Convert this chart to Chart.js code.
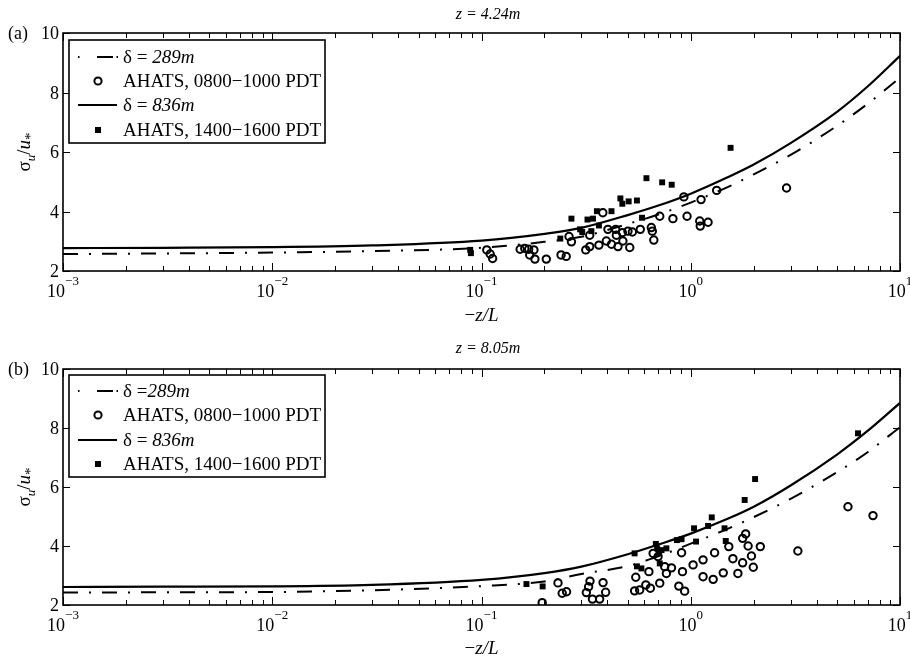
<!DOCTYPE html>
<html><head><meta charset="utf-8">
<script src="https://cdn.jsdelivr.net/npm/chart.js@4.4.0/dist/chart.umd.min.js"></script>
<style>html,body{margin:0;padding:0;background:#fff;overflow:hidden;width:910px;height:661px;} canvas{position:absolute;left:0;}</style>
</head><body>
<canvas id="ca" width="910" height="330" style="top:0px"></canvas>
<canvas id="cb" width="910" height="331" style="top:330px"></canvas>
<script>
// ---- data ----
const zeta = [0.001, 0.003, 0.01, 0.03, 0.1, 0.2, 0.3, 0.5, 0.7, 1, 1.5, 2, 3, 5, 7, 10];
const aDelta289 = [2.57, 2.59, 2.62, 2.67, 2.78, 2.98, 3.15, 3.58, 3.9, 4.3, 4.82, 5.25, 5.9, 6.88, 7.62, 8.5];
const aDelta836 = [2.77, 2.78, 2.80, 2.86, 3.02, 3.25, 3.45, 3.88, 4.2, 4.6, 5.15, 5.58, 6.3, 7.35, 8.2, 9.23];
const bDelta289 = [2.42, 2.43, 2.44, 2.5, 2.64, 2.8, 3.05, 3.32, 3.65, 4.08, 4.58, 4.98, 5.6, 6.5, 7.18, 8.03];
const bDelta836 = [2.61, 2.62, 2.63, 2.68, 2.85, 3.08, 3.3, 3.72, 4.05, 4.42, 4.92, 5.33, 6.05, 7.1, 7.9, 8.85];

const aMorningX = [0.106, 0.110, 0.113, 0.153, 0.161, 0.168, 0.178, 0.170, 0.180, 0.204, 0.240, 0.254, 0.269, 0.262, 0.315, 0.329, 0.329, 0.364, 0.380, 0.395, 0.402, 0.418, 0.438, 0.441, 0.449, 0.471, 0.474, 0.501, 0.511, 0.526, 0.574, 0.648, 0.655, 0.666, 0.711, 0.822, 0.927, 0.960, 1.104, 1.11, 1.12, 1.21, 1.33, 2.87];
const aMorningY = [2.71, 2.57, 2.42, 2.73, 2.76, 2.73, 2.71, 2.54, 2.40, 2.40, 2.54, 2.49, 2.98, 3.16, 2.71, 2.82, 3.20, 2.87, 3.96, 3.01, 3.40, 2.90, 3.40, 3.20, 2.82, 3.29, 3.01, 3.34, 2.79, 3.31, 3.40, 3.46, 3.34, 3.04, 3.84, 3.76, 4.49, 3.84, 3.68, 3.51, 4.40, 3.64, 4.71, 4.79];
const aAfternoonX = [0.0883, 0.089, 0.238, 0.269, 0.296, 0.303, 0.321, 0.341, 0.335, 0.356, 0.364, 0.418, 0.461, 0.471, 0.505, 0.553, 0.585, 0.614, 0.730, 0.811, 1.55];
const aAfternoonY = [2.71, 2.60, 3.09, 3.76, 3.40, 3.31, 3.73, 3.76, 3.34, 4.01, 3.53, 4.01, 4.44, 4.26, 4.34, 4.37, 3.79, 5.12, 4.98, 4.90, 6.14];

const bMorningX = [0.195, 0.232, 0.243, 0.255, 0.317, 0.325, 0.330, 0.339, 0.367, 0.381, 0.392, 0.539, 0.570, 0.546, 0.610, 0.641, 0.631, 0.711, 0.661, 0.698, 0.751, 0.765, 0.809, 0.877, 0.935, 0.904, 0.913, 1.026, 1.145, 1.145, 1.28, 1.30, 1.43, 1.52, 1.59, 1.68, 1.77, 1.77, 1.83, 1.88, 1.95, 1.99, 2.15, 3.25, 5.64, 7.43];
const bMorningY = [2.08, 2.75, 2.40, 2.45, 2.42, 2.62, 2.81, 2.20, 2.20, 2.76, 2.43, 2.48, 2.51, 2.94, 2.68, 2.57, 3.13, 2.74, 3.75, 3.64, 3.30, 3.07, 3.26, 2.64, 2.47, 3.77, 3.13, 3.36, 3.53, 2.96, 2.87, 3.77, 3.09, 3.98, 3.57, 3.07, 3.43, 4.26, 4.41, 4.00, 3.66, 3.28, 3.98, 3.83, 5.33, 5.03];
const bAfternoonX = [0.164, 0.196, 0.539, 0.553, 0.581, 0.681, 0.691, 0.706, 0.711, 0.725, 0.765, 0.859, 0.904, 1.037, 1.06, 1.21, 1.26, 1.45, 1.47, 1.81, 2.03, 6.3];
const bAfternoonY = [2.71, 2.63, 3.75, 3.31, 3.24, 4.07, 3.92, 3.75, 3.41, 3.86, 3.92, 4.20, 4.23, 4.60, 4.15, 4.68, 4.97, 4.60, 4.17, 5.56, 6.27, 7.82];

const xDecades = [-3, -2, -1, 0, 1];
const yTicks = [2, 4, 6, 8, 10];
const titles = ['z = 4.24m', 'z = 8.05m'];
const panelLabels = ['(a)', '(b)'];
const legendRowsA = [[['δ = ', false], ['289m', true]], [['AHATS, 0800\u22121000 PDT', false]], [['δ = ', false], ['836m', true]], [['AHATS, 1400\u22121600 PDT', false]]];
const legendRowsB = [[['δ =', false], ['289m', true]], [['AHATS, 0800\u22121000 PDT', false]], [['δ = ', false], ['836m', true]], [['AHATS, 1400\u22121600 PDT', false]]];

const SERIF = '"Liberation Serif","Times New Roman",serif';
const DASHDOT = [15, 11, 2, 11];
function pts(xs, ys) { return xs.map((x, i) => ({ x: x, y: ys[i] })); }

function buildChart(id, p) {
  const framePlugin = {
    id: 'frame',
    afterDraw(chart) {
      const ctx = chart.ctx, ca = chart.chartArea, xs = chart.scales.x, ys = chart.scales.y;
      ctx.save();
      ctx.strokeStyle = '#000'; ctx.fillStyle = '#000';
      // ticks
      ctx.lineWidth = 1;
      ctx.beginPath();
      for (let k = 0; k < xDecades.length; k++) {
        const d = xDecades[k];
        for (let m = 1; m <= 9; m++) {
          if (k === xDecades.length - 1 && m > 1) break;
          const v = m * Math.pow(10, d);
          const px = Math.round(xs.getPixelForValue(v)) + 0.5;
          const len = m === 1 ? 8 : 5;
          ctx.moveTo(px, ca.bottom); ctx.lineTo(px, ca.bottom - len);
          ctx.moveTo(px, ca.top); ctx.lineTo(px, ca.top + len);
        }
      }
      yTicks.forEach(v => {
        const py = Math.round(ys.getPixelForValue(v)) + 0.5;
        ctx.moveTo(ca.left, py); ctx.lineTo(ca.left + 7, py);
        ctx.moveTo(ca.right, py); ctx.lineTo(ca.right - 7, py);
      });
      ctx.stroke();
      // box
      ctx.lineWidth = 1.6;
      ctx.strokeRect(ca.left, ca.top, ca.right - ca.left, ca.bottom - ca.top);
      // y tick labels
      ctx.font = '18px ' + SERIF;
      ctx.textAlign = 'right'; ctx.textBaseline = 'alphabetic';
      yTicks.forEach(v => {
        const py = ys.getPixelForValue(v);
        ctx.fillText(String(v), ca.left - 4, py + 6);
      });
      // x tick labels 10^k
      xDecades.forEach(d => {
        const px = xs.getPixelForValue(Math.pow(10, d));
        const exp = d < 0 ? '\u2212' + Math.abs(d) : String(d);
        ctx.font = '18px ' + SERIF;
        const w1 = ctx.measureText('10').width;
        ctx.font = '13px ' + SERIF;
        const w2 = ctx.measureText(exp).width;
        const x0 = px - (w1 + w2) / 2;
        ctx.textAlign = 'left';
        ctx.font = '18px ' + SERIF;
        ctx.fillText('10', x0, ca.bottom + 26);
        ctx.font = '13px ' + SERIF;
        ctx.fillText(exp, x0 + w1, ca.bottom + 14);
      });
      // x axis title
      ctx.font = '19px ' + SERIF;
      const wm = ctx.measureText('\u2212').width;
      ctx.font = 'italic 19px ' + SERIF;
      const wz = ctx.measureText('z/L').width;
      const cx = (ca.left + ca.right) / 2;
      ctx.textAlign = 'left';
      ctx.font = '19px ' + SERIF;
      ctx.fillText('\u2212', cx - (wm + wz) / 2, p.xTitleY);
      ctx.font = 'italic 19px ' + SERIF;
      ctx.fillText('z/L', cx - (wm + wz) / 2 + wm, p.xTitleY);
      // title
      ctx.textAlign = 'center';
      ctx.font = 'italic 16px ' + SERIF;
      ctx.fillText(p.title, p.titleX, p.titleY);
      // panel label
      ctx.textAlign = 'left';
      ctx.font = '18px ' + SERIF;
      ctx.fillText(p.label, 8, ca.top + 6);
      // y axis title (rotated)
      ctx.save();
      ctx.translate(p.yTitleX, (ca.top + ca.bottom) / 2);
      ctx.rotate(-Math.PI / 2);
      const parts = [['\u03c3', '19px ', 0], ['u', 'italic 13px ', 5], ['/', '19px ', 0], ['u', 'italic 19px ', 0], ['*', '15px ', 5]];
      let total = 0;
      parts.forEach(q => { ctx.font = q[1] + SERIF; total += ctx.measureText(q[0]).width; });
      let xx = -total / 2;
      ctx.textAlign = 'left';
      parts.forEach(q => { ctx.font = q[1] + SERIF; ctx.fillText(q[0], xx, q[2]); xx += ctx.measureText(q[0]).width; });
      ctx.restore();
      // legend
      const L = p.legend;
      ctx.fillStyle = '#fff';
      ctx.fillRect(L.x, L.y, L.w, L.h);
      ctx.strokeStyle = '#000'; ctx.lineWidth = 1.6;
      ctx.strokeRect(L.x, L.y, L.w, L.h);
      ctx.fillStyle = '#000';
      // row 0: dash-dot sample
      ctx.lineWidth = 2;
      ctx.beginPath();
      ctx.moveTo(L.x + 9, L.rows[0]); ctx.lineTo(L.x + 10.5, L.rows[0]);
      ctx.moveTo(L.x + 28, L.rows[0]); ctx.lineTo(L.x + 44, L.rows[0]);
      ctx.moveTo(L.x + 47.5, L.rows[0]); ctx.lineTo(L.x + 49, L.rows[0]);
      ctx.stroke();
      // row 1: circle
      ctx.beginPath(); ctx.arc(L.x + 29, L.rows[1], 3.6, 0, Math.PI * 2); ctx.stroke();
      // row 2: solid
      ctx.lineWidth = 2.2;
      ctx.beginPath(); ctx.moveTo(L.x + 9, L.rows[2]); ctx.lineTo(L.x + 48, L.rows[2]); ctx.stroke();
      // row 3: square
      ctx.fillRect(L.x + 26, L.rows[3] - 3, 6, 6);
      // texts
      ctx.textAlign = 'left';
      p.legendRows.forEach((row, i) => {
        let tx = L.x + 54;
        row.forEach(seg => {
          ctx.font = (seg[1] ? 'italic ' : '') + '19px ' + SERIF;
          ctx.fillText(seg[0], tx, L.rows[i] + 6);
          tx += ctx.measureText(seg[0]).width;
        });
      });
      ctx.restore();
    }
  };

  return new Chart(document.getElementById(id), {
    type: 'scatter',
    data: {
      datasets: [
        { label: p.legendRows[3][0][0], data: pts(p.aftX, p.aftY), pointStyle: 'rect', pointRadius: 4.2, backgroundColor: '#000', borderWidth: 0 },
        { label: p.legendRows[1][0][0], data: pts(p.morX, p.morY), pointStyle: 'circle', pointRadius: 3.7, backgroundColor: 'rgba(0,0,0,0)', borderColor: '#000', borderWidth: 2 },
        { label: 'δ = 836m', data: pts(zeta, p.c836), showLine: true, pointRadius: 0, borderColor: '#000', borderWidth: 2.2, cubicInterpolationMode: 'monotone' },
        { label: 'δ = 289m', data: pts(zeta, p.c289), showLine: true, pointRadius: 0, borderColor: '#000', borderWidth: 2, borderDash: DASHDOT, cubicInterpolationMode: 'monotone' }
      ]
    },
    options: {
      responsive: false, animation: false,
      layout: { padding: { top: p.padTop, right: 10, left: 0, bottom: 0 } },
      plugins: { legend: { display: false }, tooltip: { enabled: false } },
      scales: {
        x: { type: 'logarithmic', min: 0.001, max: 10, ticks: { display: false }, grid: { display: false }, border: { display: false },
             afterFit: s => { s.height = p.xAxisH; } },
        y: { type: 'linear', min: 2, max: 10, ticks: { display: false }, grid: { display: false }, border: { display: false },
             afterFit: s => { s.width = 63; } }
      }
    },
    plugins: [framePlugin]
  });
}

buildChart('ca', {
  c289: aDelta289, c836: aDelta836, morX: aMorningX, morY: aMorningY, aftX: aAfternoonX, aftY: aAfternoonY,
  padTop: 33, xAxisH: 59, xTitleY: 321, title: titles[0], titleX: 488, titleY: 19, label: panelLabels[0], yTitleX: 30,
  legend: { x: 69, y: 40, w: 256, h: 103, rows: [57, 81, 105, 130] }, legendRows: legendRowsA
});
buildChart('cb', {
  c289: bDelta289, c836: bDelta836, morX: bMorningX, morY: bMorningY, aftX: bAfternoonX, aftY: bAfternoonY,
  padTop: 39, xAxisH: 56, xTitleY: 324, title: titles[1], titleX: 488, titleY: 23, label: panelLabels[1], yTitleX: 30,
  legend: { x: 69, y: 45, w: 256, h: 102, rows: [61, 85, 110, 134] }, legendRows: legendRowsB
});
</script>
</body></html>
